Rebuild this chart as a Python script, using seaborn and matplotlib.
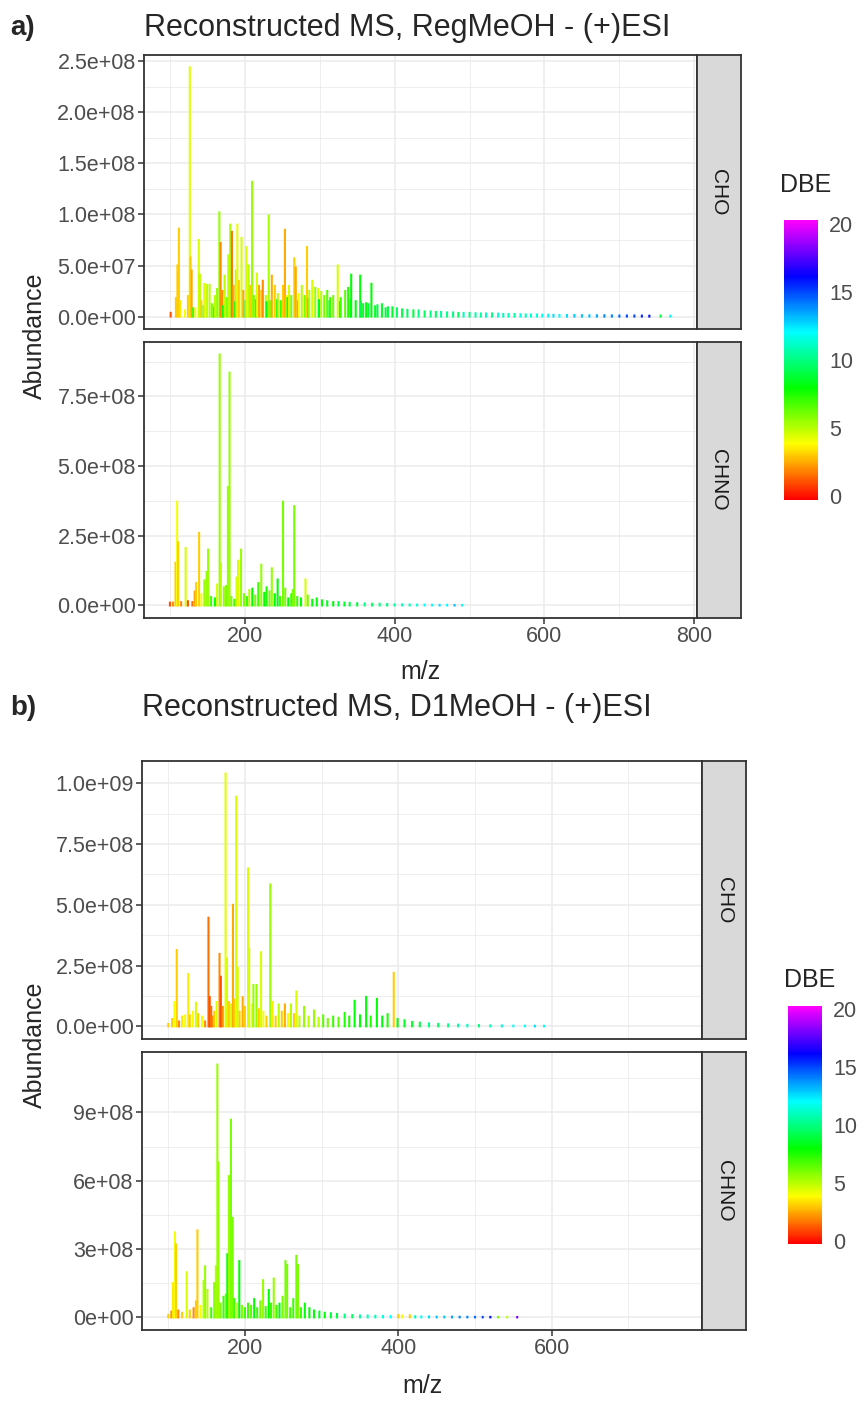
import numpy as np
import pandas as pd
import seaborn as sns
import matplotlib.pyplot as plt
from matplotlib.colors import LinearSegmentedColormap, Normalize
from matplotlib.cm import ScalarMappable
from matplotlib.ticker import AutoMinorLocator, FixedLocator

# ---- data (m/z, abundance in 1e6 counts, DBE) ----
a_cho_mz = [101, 108, 110, 112, 114, 120, 124, 126.5, 127.5, 129, 131, 134, 138.5, 140, 142, 145,
            146, 149.5, 153, 156, 159, 160, 163, 166, 167.7, 170, 171, 173, 176, 178, 180.5, 182.7,
            185, 187, 188, 190, 192, 195.6, 198, 201, 202, 205, 207, 209.7, 212, 215, 216, 219, 222,
            224, 228, 229, 231.9, 234, 236, 240, 243, 244, 248, 251, 253.5, 256, 257, 259, 262, 266,
            268, 271, 272, 276, 280, 283, 285, 286, 290, 294, 298, 299, 302, 306, 310, 313, 314, 318,
            324, 327, 328, 334, 338, 341, 342, 348, 354, 355, 358, 362, 365, 369, 374, 377, 383, 388,
            391, 397, 403, 410, 417, 425, 432, 440, 448, 455, 462, 470, 478, 485, 492, 500, 508, 515,
            522, 530, 538, 545, 552, 560, 568, 575, 582, 590, 597, 605, 612, 620, 630, 640, 650, 660,
            670, 680, 690, 700, 710, 720, 730, 740, 755, 768]
a_cho_ab = [3.6, 18, 50, 86, 15, 6, 20, 244, 58, 45, 8, 8, 75, 41, 15, 10,
            32, 31, 31, 12, 9, 20, 27, 102, 72, 25, 10, 40, 18, 60, 90, 83,
            30, 14, 45, 90, 35, 77, 25, 15, 68, 50, 30, 132, 20, 16, 42, 30, 25,
            35, 20, 14, 99, 15, 40, 30, 16, 22, 15, 30, 85, 20, 18, 30, 20, 57,
            48, 15, 22, 30, 20, 68, 17, 25, 35, 28, 27, 16, 24, 20, 25, 15, 18, 20,
            50, 14, 18, 25, 28, 16, 41, 15, 40, 14, 12, 13, 12, 32, 10, 11, 12, 8,
            9, 9, 8, 7, 6.5, 6, 6, 5, 5, 4.5, 4.5, 4, 4, 3.5, 3.5, 3.5, 3.2, 3,
            3, 3, 2.8, 2.5, 2.5, 2.5, 2.2, 2, 2, 2, 1.8, 1.8, 1.6, 1.5, 1.5, 1.5, 1.3, 1.2,
            1.2, 1.2, 1.1, 1, 1, 1, 0.9, 0.8, 1, 0.8]
a_cho_dbe = [1, 3, 3, 3, 3.5, 4, 3, 4.3, 3, 2.5, 7, 4, 4.5, 5, 3, 7,
             4.5, 4.8, 5, 6, 8, 5, 5.5, 5.5, 2, 2, 8, 5, 6, 5, 5.2, 1.5,
             2.5, 8, 5, 4.2, 3, 4.5, 2.5, 8, 4.5, 5, 3, 5.5, 6, 8, 4.5, 2.5, 3,
             2, 5, 8, 5.3, 6, 2.5, 3, 8, 5, 7, 3, 2.5, 4, 8, 4.5, 6, 3,
             2.5, 8.5, 4, 5, 6, 3, 8, 5, 4.5, 5.5, 4.5, 8.5, 5, 6, 6.5, 8.5, 7, 6,
             4.5, 8.5, 7, 6.5, 7.5, 9, 8, 8, 8, 9, 8.5, 8, 9, 8, 8.5, 9, 8.5, 9,
             9, 8.5, 9.5, 9, 9.5, 9, 10, 9.5, 10, 9.5, 10.5, 10, 10, 9.5, 11, 10, 10.5, 10.5,
             11, 10, 11.5, 11, 11, 10.5, 11.5, 11, 11.5, 11.5, 12, 12, 12.5, 12, 12.5, 13, 13, 13,
             13.5, 14, 14, 14.5, 15, 15, 15.5, 16, 9, 12]

a_chno_mz = [100, 104, 107.5, 109.7, 111, 115, 121, 124, 130, 133, 135, 139, 142, 146, 149, 151,
             155, 160, 163, 166.4, 168, 172, 175, 177.4, 179.6, 182, 186, 189, 191, 195, 199, 203,
             206, 210, 214, 218, 222, 226, 229, 233, 236, 240, 243.8, 247, 251, 254, 258, 262, 264,
             266, 270, 275, 281, 284, 290, 296, 303, 310, 318, 325, 333, 340, 350, 360, 370, 380,
             390, 400, 410, 420, 430, 440, 450, 460, 470, 480, 490]
a_chno_ab = [10, 10, 153, 372, 226, 12, 206, 15, 12, 50, 80, 260, 40, 90, 120, 200,
             30, 25, 75, 900, 150, 65, 70, 425, 835, 30, 20, 100, 160, 200, 40, 30,
             55, 60, 35, 80, 146, 45, 65, 50, 133, 40, 93, 30, 372, 60, 25, 40, 55,
             356, 30, 25, 93, 35, 20, 25, 18, 15, 12, 12, 10, 9, 8, 7, 6, 6,
             5, 4, 4, 3.5, 3, 3, 2.5, 2, 2, 1.5, 1.5]
a_chno_dbe = [1, 2, 3, 4, 3, 2, 4.5, 1, 1.5, 2.5, 3, 3, 4, 5.5, 5.5, 5.5,
              7, 8, 4.5, 5.5, 5, 5.5, 6, 5.5, 5.5, 6, 7, 4.5, 4.5, 5.5, 6, 7,
              5, 8, 6, 7, 5.5, 8, 7.5, 6, 5.5, 8, 8, 7, 6, 6, 8, 7, 6,
              6, 7, 8, 4.5, 6, 8, 8, 8, 8.5, 8, 9, 8.5, 9, 9, 10, 9.5, 10,
              10, 10.5, 11, 11, 11.5, 12, 12, 12.5, 12, 13, 12]

b_cho_mz = [100, 105, 108, 111, 114, 118, 122, 126, 128, 132, 136, 139, 144, 148, 152.4, 154,
            156, 158, 160, 163, 166.8, 168.5, 171, 174.7, 176.5, 179, 182, 184.3, 186, 188.6, 190.5,
            193, 197, 200, 204, 205.5, 209, 211, 215, 218, 221, 224, 228, 233, 236, 240, 244, 248,
            252, 256, 260, 264, 267, 271, 277, 283, 290, 296, 302, 308, 315, 322, 330, 336, 343,
            350, 358, 364, 372, 379, 386, 394, 399, 408, 418, 428, 440, 452, 465, 478, 490, 505,
            520, 535, 550, 565, 578, 590]
b_cho_ab = [10, 30, 100, 314, 20, 40, 45, 215, 45, 60, 97, 50, 40, 20, 447, 120,
            80, 40, 60, 100, 298, 204, 80, 1040, 280, 100, 90, 500, 110, 945, 240,
            60, 120, 80, 650, 320, 90, 170, 170, 70, 305, 60, 40, 584, 100, 40, 90, 60,
            90, 50, 90, 50, 143, 40, 80, 40, 65, 35, 45, 30, 40, 35, 55, 40, 105,
            45, 121, 40, 113, 40, 50, 220, 30, 25, 18, 15, 12, 10, 8, 7, 6, 5,
            4, 4, 3, 3, 2.5, 2.5]
b_cho_dbe = [3, 3, 4, 3, 2, 3.5, 4, 3.5, 3, 4, 4.5, 3, 4, 2, 1.5, 1,
             1.5, 2, 3, 4.5, 2, 1, 2, 4.3, 4.5, 3, 4.5, 2.5, 3, 4.5, 4.5,
             3, 2.5, 3, 4.5, 4.5, 4, 5.5, 5.5, 3, 4.5, 4, 3, 5.5, 3.5, 3, 5, 3,
             2.5, 4, 5, 3, 4.5, 5, 5.5, 5, 5.5, 5, 6.5, 6, 7, 6.5, 7.5, 7.5, 8,
             8, 8, 7.5, 8, 8, 7.5, 3, 8, 8.5, 8.5, 9, 10, 9.5, 10, 10.5, 11, 10,
             11, 11.5, 12, 12, 12.5, 12]

b_chno_mz = [100, 104, 106, 108.7, 110, 113, 118, 124, 128, 133, 136, 138, 142, 146, 148, 151,
             156, 160, 162, 164, 165.5, 168, 172, 175, 177, 179, 181.7, 184, 186, 190, 192.6, 196,
             200, 204, 208, 212, 216, 220, 223.6, 227, 231, 234, 237.5, 241, 245, 249, 252.8, 255,
             259, 263, 267, 269, 273, 278, 284, 290, 297, 304, 312, 320, 330, 340, 350, 360, 370,
             380, 390, 400, 405, 415, 422, 430, 440, 450, 460, 470, 480, 490, 500, 510, 520, 530,
             542, 555]
b_chno_ab = [10, 25, 150, 373, 320, 30, 20, 198, 30, 40, 70, 382, 50, 160, 224, 120,
             40, 150, 224, 1110, 680, 60, 90, 100, 277, 620, 868, 437, 80, 60, 247, 50,
             40, 60, 50, 80, 40, 70, 163, 45, 120, 60, 170, 50, 60, 90, 247, 230,
             40, 80, 270, 230, 40, 60, 40, 30, 25, 20, 18, 15, 12, 10, 8, 8, 7,
             6, 6, 10, 8, 9, 5, 4, 4, 3, 3, 3, 2.5, 2.5, 2, 2, 2, 1.5,
             1.5, 1.5]
b_chno_dbe = [3, 2, 3.5, 4, 3, 2, 3, 4.5, 3, 2, 3, 3, 4, 5, 5.5, 5,
              7, 6, 5, 5.5, 5.5, 6, 7, 6, 8, 5.5, 6, 6, 7, 5, 8, 6,
              7, 7, 6.5, 8, 7, 6, 5.5, 7, 8, 7, 5.5, 7, 8, 6, 6, 6,
              7, 7, 6, 6, 7, 8, 8, 8, 8.5, 8, 9, 9, 10, 9.5, 10.5, 11, 11,
              11.5, 12, 3, 4, 3, 11, 12, 12.5, 13, 13, 13.5, 14, 14, 14.5, 15, 16, 6,
              5, 18]

panels = [
    ('a)', 'Reconstructed MS, RegMeOH - (+)ESI',
     [('CHO', a_cho_mz, a_cho_ab, a_cho_dbe,
       [0, 5e7, 1e8, 1.5e8, 2e8, 2.5e8], ['0.0e+00', '5.0e+07', '1.0e+08', '1.5e+08', '2.0e+08', '2.5e+08']),
      ('CHNO', a_chno_mz, a_chno_ab, a_chno_dbe,
       [0, 2.5e8, 5e8, 7.5e8], ['0.0e+00', '2.5e+08', '5.0e+08', '7.5e+08'])],
     [200, 400, 600, 800], (65.4, 803.6)),
    ('b)', 'Reconstructed MS, D1MeOH - (+)ESI',
     [('CHO', b_cho_mz, b_cho_ab, b_cho_dbe,
       [0, 2.5e8, 5e8, 7.5e8, 1e9], ['0.0e+00', '2.5e+08', '5.0e+08', '7.5e+08', '1.0e+09']),
      ('CHNO', b_chno_mz, b_chno_ab, b_chno_dbe,
       [0, 3e8, 6e8, 9e8], ['0e+00', '3e+08', '6e+08', '9e+08'])],
     [200, 400, 600], (65.7, 796)),
]

# ---- style ----
sns.set_theme(style='white')
plt.rcParams['font.family'] = ['Liberation Sans', 'DejaVu Sans']

W, H = 864, 1403
fig = plt.figure(figsize=(W / 100, H / 100), dpi=100)


def box(x0, y0, x1, y1):
    return [x0 / W, 1 - y1 / H, (x1 - x0) / W, (y1 - y0) / H]


# R rainbow(end = 5/6): red -> yellow -> green -> cyan -> blue -> magenta
cmap = LinearSegmentedColormap.from_list(
    'rainbow_r', ['#FF0000', '#FFFF00', '#00FF00', '#00FFFF', '#0000FF', '#FF00FF'])
norm = Normalize(vmin=-0.3, vmax=20.3)

layout = [
    dict(rows=[(55, 329), (342, 618)], x=(144, 697), sx=741, cbar=(784, 220, 818, 500),
         dbe_y=185, ylab_y=336, title_y=28, xlab_y=672, xlab_x=420),
    dict(rows=[(761, 1039), (1052, 1330)], x=(142, 702), sx=746, cbar=(788, 1006, 822, 1244),
         dbe_y=980, ylab_y=1045, title_y=708, xlab_y=1386, xlab_x=422),
]

grey30 = '#4D4D4D'
grey20 = '#333333'

for (tag, title, facets, xticks, xlim), lay in zip(panels, layout):
    x0, x1 = lay['x']
    for i, (name, mz, ab, dbe, yticks, ylabels) in enumerate(facets):
        r0, r1 = lay['rows'][i]
        df = pd.DataFrame({'mz': mz, 'abundance': np.array(ab) * 1e6, 'DBE': dbe})
        ax = fig.add_axes(box(x0, r0, x1, r1))
        sticks = ax.vlines(df['mz'], 0, df['abundance'], colors=cmap(norm(df['DBE'])),
                           linewidth=1.5)
        sticks.set_capstyle('projecting')
        sticks.set_snap(False)
        ymax = df['abundance'].max()
        ax.set_ylim(-0.05 * ymax, 1.05 * ymax)
        ax.set_xlim(*xlim)
        ax.yaxis.set_major_locator(FixedLocator(yticks))
        ax.set_yticklabels(ylabels)
        ax.xaxis.set_major_locator(FixedLocator(xticks))
        ax.xaxis.set_minor_locator(AutoMinorLocator(2))
        ax.yaxis.set_minor_locator(AutoMinorLocator(2))
        ax.grid(which='major', color='#EBEBEB', linewidth=1.1, zorder=0)
        ax.grid(which='minor', color='#EBEBEB', linewidth=0.6, zorder=0)
        ax.set_axisbelow(True)
        for s in ax.spines.values():
            s.set_color(grey20)
            s.set_linewidth(1.3)
        ax.tick_params(axis='both', which='major', length=4, width=1.1, color=grey20,
                       labelsize=15.5, labelcolor=grey30, pad=2, left=True, bottom=(i == 1))
        ax.tick_params(which='minor', length=0)
        if i == 0:
            ax.set_xticklabels([])
        else:
            ax.set_xticklabels([str(t) for t in xticks])
        ax.set_xlabel('')
        ax.set_ylabel('')

        # facet strip on the right
        sax = fig.add_axes(box(x1, r0, lay['sx'], r1))
        sax.set_facecolor('#D9D9D9')
        sax.set_xticks([])
        sax.set_yticks([])
        for s in sax.spines.values():
            s.set_color(grey20)
            s.set_linewidth(1.3)
        sax.text(0.5, 0.5, name, rotation=270, ha='center', va='center',
                 fontsize=15, color='#1A1A1A', transform=sax.transAxes)

    # titles and axis labels
    fig.text(10 / W, 1 - lay['title_y'] / H, tag, fontsize=20, fontweight='bold',
             va='center', ha='left')
    fig.text(x0 / W, 1 - lay['title_y'] / H, title, fontsize=22, va='center', ha='left')
    fig.text(lay['xlab_x'] / W, 1 - lay['xlab_y'] / H, 'm/z', fontsize=18, ha='center', va='center')
    fig.text(35 / W, 1 - lay['ylab_y'] / H, 'Abundance', fontsize=18, rotation=90,
             ha='center', va='center')

    # DBE colour bar
    cx0, cy0, cx1, cy1 = lay['cbar']
    cax = fig.add_axes(box(cx0, cy0, cx1, cy1))
    cb = fig.colorbar(ScalarMappable(norm=norm, cmap=cmap), cax=cax, ticks=[0, 5, 10, 15, 20])
    cb.outline.set_visible(False)
    cax.tick_params(direction='in', length=6, width=1.2, color='white', left=True, right=True,
                    labelleft=False, labelright=True, labelsize=15.5, labelcolor=grey30, pad=8)
    fig.text(cx0 / W - 0.005, 1 - lay['dbe_y'] / H, 'DBE', fontsize=18, ha='left', va='center')

fig.savefig('out.png', dpi=100)
